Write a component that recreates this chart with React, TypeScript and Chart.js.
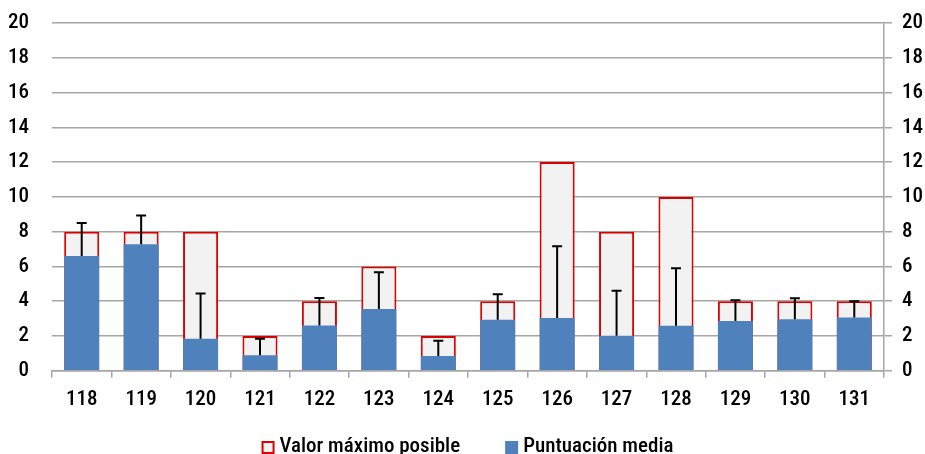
import React, { useEffect, useRef } from "react";
import { Chart, registerables } from "chart.js";

Chart.register(...registerables);

const categories = ["118", "119", "120", "121", "122", "123", "124", "125", "126", "127", "128", "129", "130", "131"];
const maxValues = [8, 8, 8, 2, 4, 6, 2, 4, 12, 8, 10, 4, 4, 4];
const meanValues = [6.6, 7.28, 1.85, 0.9, 2.6, 3.55, 0.85, 2.93, 3.03, 2.02, 2.59, 2.86, 2.97, 3.07];
const errorTops = [8.5, 8.93, 4.44, 1.85, 4.19, 5.67, 1.73, 4.4, 7.16, 4.61, 5.9, 4.06, 4.17, 4.0];
const yTicks = [0, 2, 4, 6, 8, 10, 12, 14, 16, 18, 20];

const FAMILY = "Roboto, 'DejaVu Sans', sans-serif";
const WEIGHT = "500 condensed";
const font = (size: number) => ({ family: FAMILY, size, weight: WEIGHT });

const RED = "#DC0000";
const BLUE = "#4F81BD";
const LIGHT = "#F2F2F2";
const GRID = "#A6A6A6";

const errorBarPlugin = {
  id: "errorBars",
  afterDatasetsDraw(chart: any) {
    const meta = chart.getDatasetMeta(1);
    const y = chart.scales.y;
    const ctx = chart.ctx;
    ctx.save();
    ctx.strokeStyle = "#000000";
    ctx.lineWidth = 2;
    meta.data.forEach((bar: any, i: number) => {
      const x = bar.x;
      const yTop = y.getPixelForValue(errorTops[i]);
      const yBase = bar.y;
      ctx.beginPath();
      ctx.moveTo(x, yBase);
      ctx.lineTo(x, yTop);
      ctx.moveTo(x - 5, yTop);
      ctx.lineTo(x + 5, yTop);
      ctx.stroke();
    });
    ctx.restore();
  },
};

const customLegendPlugin = {
  id: "customLegend",
  afterDraw(chart: any) {
    const ctx = chart.ctx;
    const ds = chart.data.datasets;
    ctx.save();
    ctx.font = `${WEIGHT} 21px ${FAMILY}`;
    ctx.textBaseline = "middle";
    ctx.textAlign = "left";
    const box = 13;
    const boxGap = 5;
    const itemGap = 45;
    const widths = ds.map((d: any) => ctx.measureText(d.label).width);
    const total = widths.reduce((a: number, w: number) => a + box + boxGap + w, 0) + itemGap * (ds.length - 1);
    let x = chart.width / 2 + 5 - total / 2;
    const cy = 447;
    ds.forEach((d: any, i: number) => {
      ctx.fillStyle = d.backgroundColor;
      ctx.fillRect(x, cy - 6, box, box);
      if (i === 0) {
        ctx.strokeStyle = RED;
        ctx.lineWidth = 2;
        ctx.strokeRect(x + 1, cy - 5, box - 2, box - 2);
      }
      ctx.fillStyle = "#000000";
      ctx.fillText(d.label, x + box + boxGap, cy);
      x += box + boxGap + widths[i] + itemGap;
    });
    ctx.restore();
  },
};

export default function App() {
  const ref = useRef<HTMLCanvasElement>(null);
  useEffect(() => {
    const chart = new Chart(ref.current!, {
      type: "bar",
      data: {
        labels: categories,
        datasets: [
          {
            label: "Valor máximo posible",
            data: maxValues,
            backgroundColor: LIGHT,
            borderColor: RED,
            borderWidth: 2,
            order: 2,
            barPercentage: 0.59,
            categoryPercentage: 1,
          },
          {
            label: "Puntuación media",
            data: meanValues,
            backgroundColor: BLUE,
            borderColor: BLUE,
            borderWidth: 0,
            order: 1,
            barPercentage: 0.59,
            categoryPercentage: 1,
          },
        ],
      },
      options: {
        animation: false,
        responsive: true,
        maintainAspectRatio: false,
        layout: { padding: { top: 23, right: 0, left: 0, bottom: 33 } },
        plugins: {
          tooltip: { enabled: false },
          legend: { display: false },
        },
        scales: {
          x: {
            stacked: true,
            grid: {
              offset: true,
              drawOnChartArea: false,
              drawTicks: true,
              tickLength: 7,
              color: GRID,
              lineWidth: 1.5,
            },
            border: { display: true, color: GRID, width: 1.5 },
            ticks: { font: font(21), color: "#000000", padding: 9 },
          },
          y: {
            position: "left",
            min: 0,
            max: 20,
            afterBuildTicks: (s: any) => {
              s.ticks = yTicks.map((v) => ({ value: v }));
            },
            afterFit: (s: any) => {
              s.width = 52;
            },
            grid: { color: GRID, lineWidth: 1.5, drawTicks: true, tickLength: 23, tickColor: "rgba(0,0,0,0)" },
            border: { display: false },
            ticks: { font: font(21), color: "#000000", padding: 0 },
          },
          y2: {
            position: "right",
            min: 0,
            max: 20,
            afterBuildTicks: (s: any) => {
              s.ticks = yTicks.map((v) => ({ value: v }));
            },
            afterFit: (s: any) => {
              s.width = 41;
            },
            grid: { drawOnChartArea: false, drawTicks: true, tickLength: 8, color: GRID, lineWidth: 1.5 },
            border: { display: true, color: GRID, width: 1.5 },
            ticks: { font: font(21), color: "#000000", padding: 10 },
          },
        },
      },
      plugins: [errorBarPlugin, customLegendPlugin],
    } as any);
    return () => chart.destroy();
  }, []);
  return (
    <div style={{ position: "fixed", left: 0, top: 0, width: 925, height: 454, background: "#fff" }}>
      <canvas ref={ref} />
    </div>
  );
}
